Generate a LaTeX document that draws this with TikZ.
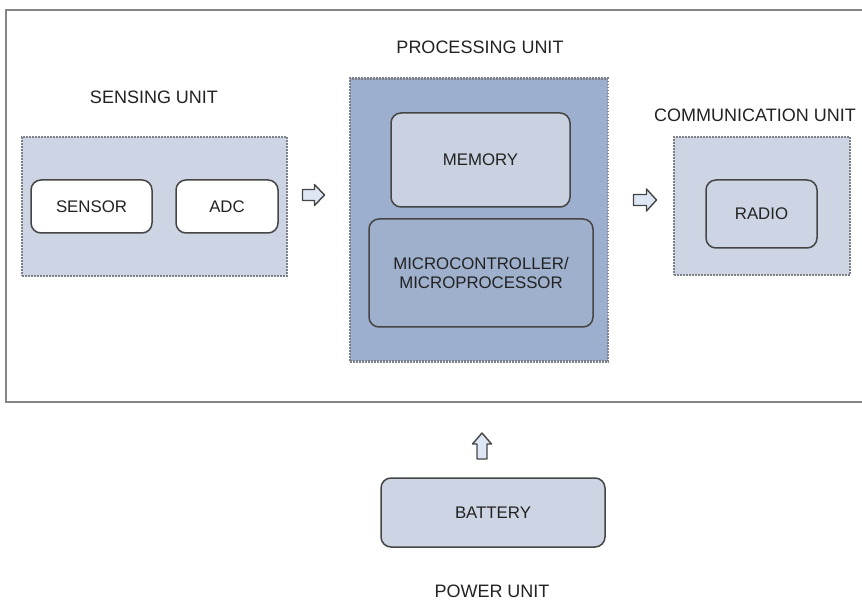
\documentclass[tikz,border=0pt]{standalone}
\usepackage{fontspec}
\setmainfont{Liberation Sans}
\usetikzlibrary{positioning}

\definecolor{framegray}{HTML}{858585}
\definecolor{edgegray}{HTML}{454545}
\definecolor{dotgray}{HTML}{7C8088}
\definecolor{lightblue}{HTML}{CDD5E4}
\definecolor{midblue}{HTML}{9DAFCE}
\definecolor{memblue}{HTML}{CAD2E1}
\definecolor{microblue}{HTML}{9FB0CD}
\definecolor{arrowfill}{HTML}{DDE6F4}
\definecolor{textgray}{HTML}{222222}

\tikzset{
  container/.style={draw=dotgray, line width=2.2pt, dash pattern=on 1.6pt off 1.4pt,
                    inner sep=0pt},
  block/.style={draw=edgegray, line width=1.5pt, rounded corners=10pt, inner sep=0pt,
                align=center, text=textgray, font=\fontsize{16.8}{19.5}\selectfont},
  unitlabel/.style={text=textgray, font=\fontsize{18}{21}\selectfont, inner sep=0pt},
  pics/blockarrow/.style args={#1/#2/#3/#4}{% length / width / shaft / head length
    code={
      \draw[draw=edgegray, line width=1.4pt, fill=arrowfill, line join=round]
        (-#1/2,-#3/2) -- (#1/2-#4,-#3/2) -- (#1/2-#4,-#2/2) -- (#1/2,0)
        -- (#1/2-#4,#2/2) -- (#1/2-#4,#3/2) -- (-#1/2,#3/2) -- cycle;
    }
  }
}

\begin{document}
\begin{tikzpicture}[x=1pt, y=-1pt]
  \useasboundingbox (0,0) rectangle (862,601);

  % outer frame (open on the right)
  \draw[framegray, line width=2pt] (862,10) -- (6,10) -- (6,402) -- (862,402);

  % sensing unit
  \node[container, fill=lightblue, minimum width=265pt, minimum height=139pt]
    (sense) at (154.5,206.5) {};
  \node[unitlabel] (senselbl) at (154,97) {SENSING UNIT};
  \node[block, fill=white, minimum width=121pt, minimum height=53pt]
    (sensor) at (91.5,206.5) {SENSOR};
  \node[block, fill=white, minimum width=102pt, minimum height=53pt]
    (adc) at (227,206.5) {ADC};

  % processing unit
  \node[container, fill=midblue, minimum width=258pt, minimum height=283pt]
    (proc) at (479,220) {};
  \node[unitlabel] (proclbl) at (480,47) {PROCESSING UNIT};
  \node[block, fill=memblue, minimum width=179pt, minimum height=94pt]
    (memory) at (480.5,160) {MEMORY};
  \node[block, fill=microblue, minimum width=224pt, minimum height=108pt]
    (micro) at (481,273) {MICROCONTROLLER/\\MICROPROCESSOR};

  % communication unit
  \node[container, fill=lightblue, minimum width=176pt, minimum height=138pt]
    (comm) at (762,206) {};
  \node[unitlabel] (commlbl) at (755,115) {COMMUNICATION UNIT};
  \node[block, fill=lightblue, minimum width=111pt, minimum height=68pt]
    (radio) at (761.5,214) {RADIO};

  % power unit
  \node[block, fill=lightblue, minimum width=224pt, minimum height=69pt]
    (battery) at (493,512.5) {BATTERY};
  \node[unitlabel] (powerlbl) at (492,591) {POWER UNIT};

  % flow arrows between the units
  \coordinate (arrA) at (313.5,195);
  \coordinate (arrB) at (645,200);
  \coordinate (arrC) at (482,446);
  \pic at (arrA) {blockarrow={22/21/11/10}};
  \pic at (arrB) {blockarrow={23/22/11/10}};
  \pic[rotate=90] at (arrC) {blockarrow={26/19/10/11}};
\end{tikzpicture}
\end{document}
